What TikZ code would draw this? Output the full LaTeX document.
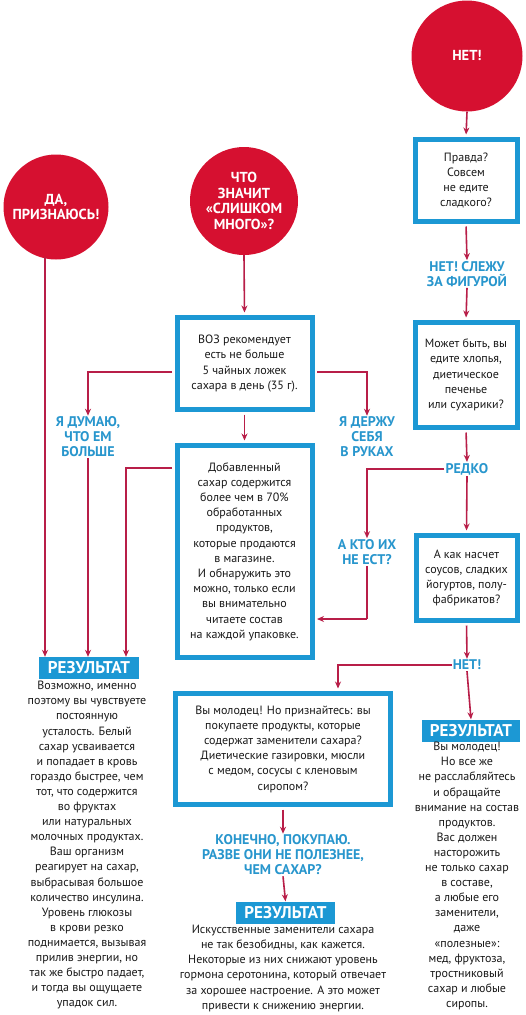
\documentclass[tikz,border=0pt]{standalone}
\usepackage{fontspec}
\setmainfont{PT Sans}
\usetikzlibrary{arrows.meta,calc}
\definecolor{cred}{RGB}{214,16,48}
\definecolor{carrow}{RGB}{184,30,72}
\definecolor{cblue}{RGB}{28,152,212}
\definecolor{clabel}{RGB}{40,150,205}
\definecolor{ctext}{RGB}{25,25,25}
\tikzset{
  redcirc/.style={circle,fill=cred,text=white,font=\bfseries\fontsize{14.5}{15.5}\selectfont,align=center,inner sep=0pt},
  bluebox/.style={draw=cblue,line width=5pt,fill=white,text=ctext,align=center,inner sep=0pt,font=\fontsize{12}{15.2}\selectfont},
  lbl/.style={text=clabel,font=\bfseries\fontsize{14}{15}\selectfont,align=center,inner sep=1pt},
  restag/.style={fill=cblue,text=white,font=\bfseries\fontsize{17}{18}\selectfont,inner sep=0pt,minimum height=22pt},
  restext/.style={text=ctext,align=center,inner sep=0pt,font=\fontsize{12}{15.1}\selectfont,anchor=north},
  arr/.style={draw=carrow,line width=1.6pt,-{Stealth[length=7pt,width=6pt]}},
  ln/.style={draw=carrow,line width=1.6pt}
}
\begin{document}
\begin{tikzpicture}[x=1pt,y=-1pt]
\useasboundingbox[fill=white] (0,0) rectangle (525,1015);
% circles
\node[redcirc,minimum size=111pt] (cno) at (467,56) {НЕТ!};
\node[redcirc,minimum size=105pt] (cyes) at (56,207) {ДА,\\ПРИЗНАЮСЬ!};
\node[redcirc,minimum size=108pt] (cwhat) at (244,201) {ЧТО\\ЗНАЧИТ\\«СЛИШКОМ\\МНОГО»?};
% boxes
\node[bluebox,minimum width=102pt,minimum height=82pt] (b1) at (466,180.5) {Правда?\\Совсем\\не едите\\сладкого?};
\node[bluebox,minimum width=102pt,minimum height=105pt] (b2) at (466,375) {Может быть, вы\\едите хлопья,\\диетическое\\печенье\\или сухарики?};
\node[bluebox,minimum width=135pt,minimum height=92pt] (who) at (244.5,363.5) {ВОЗ рекомендует\\есть не больше\\5 чайных ложек\\сахара в день (35 г).};
\node[bluebox,minimum width=135pt,minimum height=212pt] (big) at (244.5,551.5) {Добавленный\\сахар содержится\\более чем в 70\%\\обработанных\\продуктов,\\которые продаются\\в магазине.\\И обнаружить это\\можно, только если\\вы внимательно\\читаете состав\\на каждой упаковке.};
\node[bluebox,minimum width=101pt,minimum height=85pt] (b3) at (466.5,578) {А как насчет\\соусов, сладких\\йогуртов, полу-\\фабрикатов?};
\node[bluebox,minimum width=215pt,minimum height=111pt] (b4) at (283,749) {Вы молодец! Но признайтесь: вы\\покупаете продукты, которые\\содержат заменители сахара?\\Диетические газировки, мюсли\\с медом, сосусы с кленовым\\сиропом?};
% labels
\node[lbl] (l1) at (467,274) {НЕТ! СЛЕЖУ\\ЗА ФИГУРОЙ};
\node[lbl] (l2) at (88,437) {Я ДУМАЮ,\\ЧТО ЕМ\\БОЛЬШЕ};
\node[lbl] (l3) at (367,437) {Я ДЕРЖУ\\СЕБЯ\\В РУКАХ};
\node[lbl] (l4) at (467,469) {РЕДКО};
\node[lbl] (l5) at (367,552) {А КТО ИХ\\НЕ ЕСТ?};
\node[lbl] (l6) at (467,665) {НЕТ!};
\node[lbl] (l7) at (283,855) {КОНЕЧНО, ПОКУПАЮ.\\РАЗВЕ ОНИ НЕ ПОЛЕЗНЕЕ,\\ЧЕМ САХАР?};
% result tags
\node[restag,minimum width=100pt] (r1) at (89,668) {РЕЗУЛЬТАТ};
\node[restag,minimum width=98pt] (r2) at (471,730.5) {РЕЗУЛЬТАТ};
\node[restag,minimum width=99pt] (r3) at (285.5,912.5) {РЕЗУЛЬТАТ};
% result texts
\node[restext] (t1) at (87,681) {Возможно, именно\\поэтому вы чувствуете\\постоянную\\усталость. Белый\\сахар усваивается\\и попадает в кровь\\гораздо быстрее, чем\\тот, что содержится\\во фруктах\\или натуральных\\молочных продуктах.\\Ваш организм\\реагирует на сахар,\\выбрасывая большое\\количество инсулина.\\Уровень глюкозы\\в крови резко\\поднимается, вызывая\\прилив энергии, но\\так же быстро падает,\\и тогда вы ощущаете\\упадок сил.};
\node[restext] (t2) at (467,742) {Вы молодец!\\Но все же\\не расслабляйтесь\\и обращайте\\внимание на состав\\продуктов.\\Вас должен\\насторожить\\не только сахар\\в составе,\\а любые его\\заменители,\\даже\\«полезные»:\\мед, фруктоза,\\тростниковый\\сахар и любые\\сиропы.};
\node[restext] (t3) at (283,925) {Искусственные заменители сахара\\не так безобидны, как кажется.\\Некоторые из них снижают уровень\\гормона серотонина, который отвечает\\за хорошее настроение. А это может\\привести к снижению энергии.};
% helper coordinates
\coordinate (xa) at (45,0);
\coordinate (xb) at (126,0);
\coordinate (xc) at (338,0);
\coordinate (ya) at (0,372);
\coordinate (yb) at (0,468);
\coordinate (k1) at (367,619);
% connectors
\draw[arr,shorten >=2.5pt] (cno.south) -- (b1.north);
\draw[arr,shorten <=2.5pt] (b1.south) -- (l1.north);
\draw[arr,shorten >=2.5pt] (l1.south) -- (b2.north);
\draw[arr,shorten <=2.5pt] (b2.south) -- (l4.north);
\draw[arr,shorten >=2.5pt] (l4.south) -- (b3.north);
\draw[arr] (l4.west) -| (l5.north);
\draw[ln] (l5.south) -- (k1);
\draw[arr,shorten >=2.5pt] (k1) -- (big.east |- k1);
\draw[arr,shorten <=2.5pt] (b3.south) -- (l6.north);
\draw[arr,shorten >=2.5pt] (l6.west) -| (xc |- b4.north);
\draw[arr] (l6.south) -- (r2.north);
\draw[arr,shorten >=2.5pt] (cwhat.south) -- (who.north);
\draw[arr,shorten <=2.5pt] (who.west |- ya) -| (l2.north);
\draw[arr,shorten <=2.5pt] (who.east |- ya) -| (l3.north);
\draw[arr,shorten <=2.5pt,shorten >=2.5pt] (who.south) -- (big.north);
\draw[arr,shorten <=2.5pt] (big.west |- yb) -| (xb |- r1.north);
\draw[arr] (l2.south) -- (l2.south |- r1.north);
\draw[arr] ($(cyes.south -| xa)+(0,-3)$) -- (xa |- r1.north);
\draw[arr,shorten <=2.5pt] (b4.south) -- (l7.north);
\draw[arr] (l7.south) -- (r3.north);
\end{tikzpicture}
\end{document}
